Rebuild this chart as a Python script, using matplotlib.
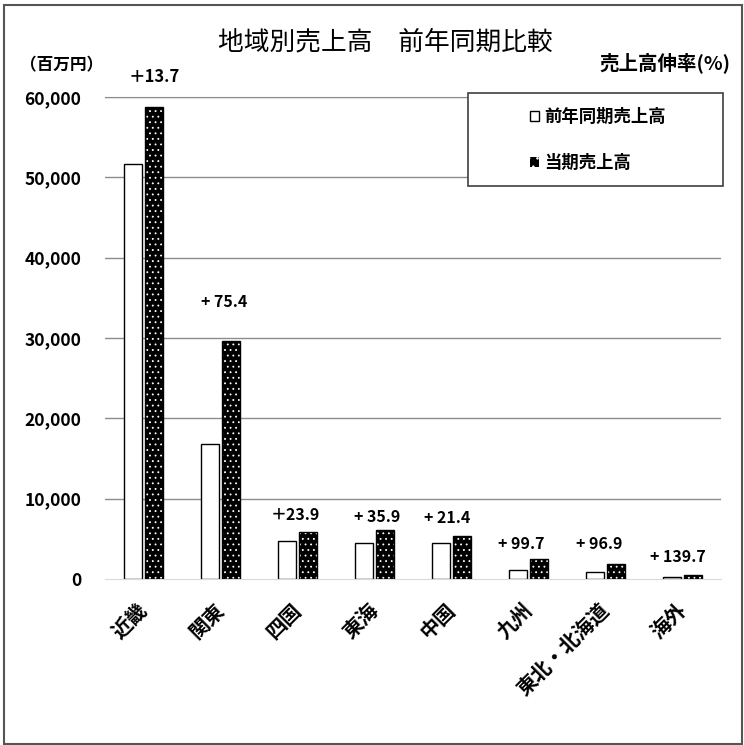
import matplotlib
matplotlib.use("Agg")
import matplotlib.pyplot as plt
from matplotlib.patches import Rectangle, Patch
import numpy as np

plt.rcParams['font.family'] = ['Noto Sans CJK JP', 'DejaVu Sans']
plt.rcParams['hatch.linewidth'] = 0.6

# Data (百万円)
regions = ['近畿', '関東', '四国', '東海', '中国', '九州', '東北・北海道', '海外']
prev_sales = [51600, 16800, 4700, 4500, 4500, 1150, 920, 220]
curr_sales = [58800, 29600, 5800, 6100, 5400, 2450, 1870, 540]
growth_labels = ['＋13.7', '+ 75.4', '＋23.9', '+ 35.9', '+ 21.4', '+ 99.7', '+ 96.9', '+ 139.7']
yticks = [0, 10000, 20000, 30000, 40000, 50000, 60000]

# label offsets from the top of each current bar (pixels)
label_dx = [0, -6.5, -12.5, -7.5, -14.5, -17.5, -16.5, -15.5]
label_dy = [30, 39, 17, 13, 18, 15, 20, 18]

W, H = 744, 745
fig = plt.figure(figsize=(W / 100, H / 100), dpi=100)
ax = fig.add_axes([105 / W, 1 - 579 / H, 616 / W, 482 / H])

x = np.arange(len(regions))
off = 0.136
bw = 0.232

ax.bar(x - off, prev_sales, bw, color='white', edgecolor='black', linewidth=1, zorder=2)
ax.bar(x + off, curr_sales, bw, color='black', edgecolor='white', hatch='...', linewidth=0, zorder=2)
ax.bar(x + off, curr_sales, bw, fill=False, edgecolor='black', linewidth=1, zorder=3)

for i, lbl in enumerate(growth_labels):
    ax.annotate(lbl, xy=(x[i] + off, curr_sales[i]), xytext=(label_dx[i], label_dy[i]),
                textcoords='offset pixels', ha='center', va='center',
                fontsize=12 if i == 0 else 11.5, fontweight='bold', annotation_clip=False)

ax.set_xlim(-0.5, len(regions) - 0.5)
ax.set_ylim(0, 60000)
ax.set_yticks(yticks)
ax.set_yticklabels([f'{v:,}' for v in yticks], fontsize=12.5, fontweight='bold')
ax.set_xticks(x)
ax.set_xticklabels(regions, rotation=45, rotation_mode='anchor', ha='right', va='center',
                   fontsize=14.5, fontweight='bold')
ax.tick_params(axis='both', length=0)
ax.tick_params(axis='y', pad=17)
ax.tick_params(axis='x', pad=20)

ax.yaxis.grid(True, color='#8c8c8c', linewidth=1)
ax.set_axisbelow(True)
ax.get_ygridlines()[0].set_visible(False)
ax.spines['left'].set_visible(False)
ax.spines['right'].set_visible(False)
ax.spines['top'].set_color('#8c8c8c')
ax.spines['bottom'].set_color('#d9d9d9')

# Texts around the plot
fig.text(385 / W, 1 - 42 / H, '地域別売上高　前年同期比較', ha='center', va='center', fontsize=18.5)
fig.text(20 / W, 1 - 65 / H, '（百万円）', ha='left', va='center', fontsize=12, fontweight='bold')
fig.text(730 / W, 1 - 63 / H, '売上高伸率(%)', ha='right', va='center', fontsize=14, fontweight='bold')

# Legend box
fig.patches.append(Rectangle((468 / W, 1 - 186 / H), 255 / W, 93 / H, transform=fig.transFigure,
                             facecolor='white', edgecolor='#404040', linewidth=1.2, zorder=5))
handles = [Patch(facecolor='white', edgecolor='black', linewidth=1),
           Patch(facecolor='black', edgecolor='white', hatch='..', linewidth=0)]
leg = fig.legend(handles, ['前年同期売上高', '当期売上高'], loc='center',
                 bbox_to_anchor=(598 / W, 1 - 140 / H), frameon=False,
                 handlelength=0.55, handleheight=0.55, handletextpad=0.3, labelspacing=1.6,
                 prop=dict(weight='bold', size=12.5))
leg.set_zorder(6)

# Outer frame
fig.patches.append(Rectangle((4 / W, 1 - 744 / H), 738 / W, 739 / H, transform=fig.transFigure,
                             fill=False, edgecolor='#555555', linewidth=1.5))

fig.savefig('out.png', dpi=100)
